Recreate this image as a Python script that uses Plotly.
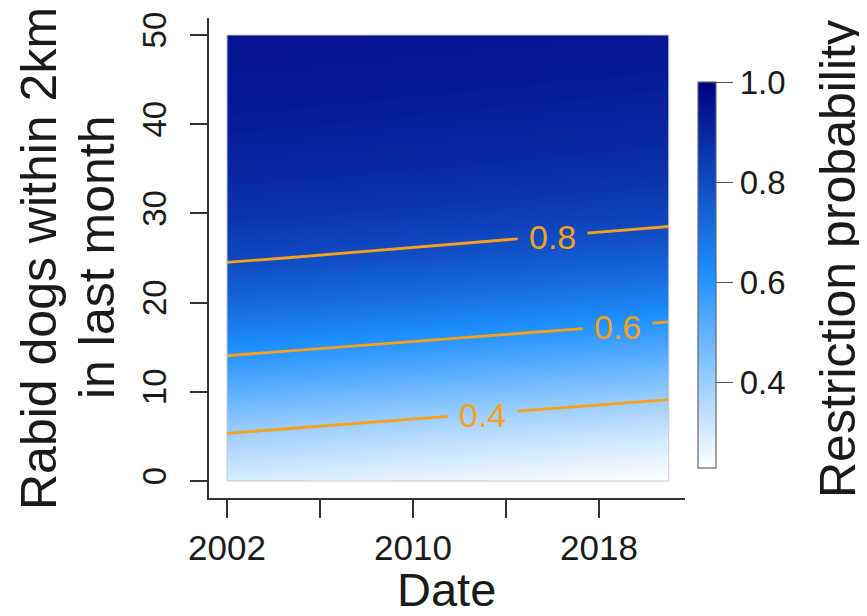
import plotly.graph_objects as go

# ---- data ----
years = [2002, 2021]
dogs = [0, 5, 10, 15, 20, 25, 30, 35, 40, 45, 50]
prob_2002 = [0.295, 0.392, 0.507, 0.622, 0.725, 0.808, 0.865, 0.902, 0.925, 0.940, 0.950]
prob_2021 = [0.228, 0.311, 0.419, 0.536, 0.649, 0.747, 0.822, 0.872, 0.903, 0.925, 0.940]
contour_levels = [0.4, 0.6, 0.8]
label_year = [2013.0, 2018.8, 2016.0]      # where each contour label sits
x_tickvals = [2002, 2006, 2010, 2014, 2018]
x_ticktext = ["2002", "", "2010", "", "2018"]
y_tickvals = [0, 10, 20, 30, 40, 50]
cbar_tickvals = [0.4, 0.6, 0.8, 1.0]
zmin, zmax = 0.228, 1.0

z = [[a, b] for a, b in zip(prob_2002, prob_2021)]

W, H = 867, 616
OFF = 8                                      # page body margin of the browser
PL, PR, PT, PB = 209 - OFF, 685 - OFF, 18 - OFF, 498 - OFF   # plot area, figure px
FONT = "Liberation Sans, Arial, sans-serif"
colorscale = [[0.0, "#ffffff"], [0.5, "#1e90ff"], [1.0, "#000080"]]
ORANGE = "#f7a11a"
AX = "#333333"
TXT = "#1a1a1a"


def px_x(sx):
    return (sx - OFF - PL) / (PR - PL)


def px_y(sy):
    return (PB - (sy - OFF)) / (PB - PT)


def contour_path(level):
    """Piecewise-linear iso-line through the grid (same as marching squares)."""
    pts = []
    for col, xv in ((prob_2002, years[0]), (prob_2021, years[1])):
        for i in range(len(dogs) - 1):
            a, b = col[i], col[i + 1]
            if (a - level) * (b - level) <= 0 and a != b:
                pts.append((xv, dogs[i] + (level - a) / (b - a) * (dogs[i + 1] - dogs[i])))
    for k, d in enumerate(dogs):
        a, b = prob_2002[k], prob_2021[k]
        if (a - level) * (b - level) < 0:
            pts.append((years[0] + (a - level) / (a - b) * (years[1] - years[0]), d))
    pts.sort()
    return pts


def y_on(pts, xv):
    for (x0, y0), (x1, y1) in zip(pts[:-1], pts[1:]):
        if x0 <= xv <= x1:
            return y0 + (y1 - y0) * (xv - x0) / (x1 - x0) if x1 != x0 else y0
    return pts[-1][1]


fig = go.Figure()

# smooth colour fill (many fine contour bands)
fig.add_trace(go.Contour(
    x=years, y=dogs, z=z,
    zmin=zmin, zmax=zmax, zauto=False,
    colorscale=colorscale,
    contours=dict(start=0.20, end=1.0, size=0.004, coloring="fill", showlines=False),
    line=dict(width=0),
    showscale=False, hoverinfo="skip",
))

# orange contour lines with gaps for the labels
annotations = []
GAP = 1.5  # half-width of the label gap, years
for level, lx in zip(contour_levels, label_year):
    pts = contour_path(level)
    xs, ys = [], []
    for (xv, yv) in pts:
        if xv < lx - GAP:
            xs.append(xv); ys.append(yv)
    xs += [lx - GAP, None, lx + GAP]
    ys += [y_on(pts, lx - GAP), None, y_on(pts, lx + GAP)]
    for (xv, yv) in pts:
        if xv > lx + GAP:
            xs.append(xv); ys.append(yv)
    fig.add_trace(go.Scatter(x=xs, y=ys, mode="lines",
                             line=dict(color=ORANGE, width=2.8),
                             showlegend=False, hoverinfo="skip"))
    annotations.append(dict(
        text=f"{level:.1f}", x=lx, y=y_on(pts, lx), xref="x", yref="y",
        xanchor="center", yanchor="middle", showarrow=False, yshift=-1,
        font=dict(family=FONT, size=34, color=ORANGE)))

# invisible helper trace carrying the continuous colour bar
fig.add_trace(go.Scatter(
    x=[years[0], years[0]], y=[dogs[0], dogs[0]], mode="markers",
    marker=dict(color=[zmin, zmax], cmin=zmin, cmax=zmax, colorscale=colorscale,
                size=1, opacity=0, showscale=True,
                colorbar=dict(
                    x=px_x(698), xanchor="left", xref="paper",
                    y=px_y(82), yanchor="top", yref="paper",
                    len=(468 - 82) / (PB - PT), lenmode="fraction",
                    thickness=18, thicknessmode="pixels",
                    xpad=0, ypad=0,
                    outlinecolor="#666666", outlinewidth=1.2,
                    ticks="outside", ticklen=17, tickwidth=1.2, tickcolor="#555555",
                    tickvals=cbar_tickvals, tickformat=".1f",
                    tickfont=dict(family=FONT, size=33, color=TXT),
                )),
    showlegend=False, hoverinfo="skip",
))

# thin outline of the image area
fig.add_shape(type="rect", x0=years[0], x1=years[-1], y0=dogs[0], y1=dogs[-1],
              line=dict(color="#c8c8c8", width=1), layer="above")

annotations += [
    dict(text="Rabid dogs within 2km", textangle=-90,
         x=px_x(39), y=px_y(259), xref="paper", yref="paper",
         xanchor="center", yanchor="middle", showarrow=False,
         font=dict(family=FONT, size=50, color=TXT)),
    dict(text="in last month", textangle=-90,
         x=px_x(97), y=px_y(258), xref="paper", yref="paper",
         xanchor="center", yanchor="middle", showarrow=False,
         font=dict(family=FONT, size=50, color=TXT)),
    dict(text="Date", x=px_x(446), y=px_y(589), xref="paper", yref="paper",
         xanchor="center", yanchor="middle", showarrow=False,
         font=dict(family=FONT, size=47, color=TXT)),
    dict(text="Restriction probability", textangle=-90,
         x=px_x(838), y=px_y(259), xref="paper", yref="paper",
         xanchor="center", yanchor="middle", showarrow=False,
         font=dict(family=FONT, size=50, color=TXT)),
]

fig.update_layout(
    width=W, height=H, autosize=False,
    margin=dict(l=PL, r=W - PR, t=PT, b=H - PB, pad=0, autoexpand=False),
    paper_bgcolor="white", plot_bgcolor="white",
    showlegend=False,
    font=dict(family=FONT, color=TXT),
    xaxis=dict(range=[2001.226, 2021.70], tickvals=x_tickvals, ticktext=x_ticktext,
               ticks="outside", ticklen=18, tickwidth=1.5, tickcolor=AX,
               showline=True, linecolor=AX, linewidth=1.5,
               showgrid=False, zeroline=False, automargin=False,
               tickfont=dict(family=FONT, size=35, color=TXT),
               ticklabelstandoff=0),
    yaxis=dict(range=[-1.906, 51.906], tickvals=y_tickvals,
               ticks="outside", ticklen=17, tickwidth=1.5, tickcolor=AX,
               showline=True, linecolor=AX, linewidth=1.5,
               showgrid=False, zeroline=False, tickangle=-90, automargin=False,
               tickfont=dict(family=FONT, size=33, color=TXT),
               ticklabelstandoff=11),
    annotations=annotations,
)

fig.write_html("out.html")
